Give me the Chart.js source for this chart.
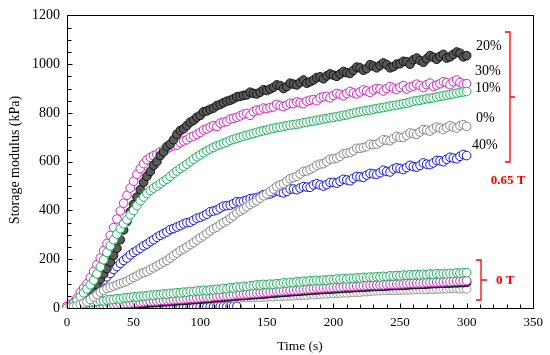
<!DOCTYPE html>
<html><head><meta charset="utf-8">
<script src="https://cdn.jsdelivr.net/npm/chart.js@4.4.1/dist/chart.umd.min.js"></script>
<style>html,body{margin:0;padding:0;background:#fff}#wrap{width:550px;height:355px}</style>
</head><body><div id="wrap"><canvas id="c" width="550" height="355"></canvas></div>
<script>
// ---- data (time in s, storage modulus in kPa) ----
const time = [
  0,2.5,5,7.5,10,12.5,15,17.5,20,22.5,
  25,27.5,30,32.5,35,37.5,40,42.5,45,47.5,
  50,52.5,55,57.5,60,62.5,65,67.5,70,72.5,
  75,77.5,80,82.5,85,87.5,90,92.5,95,97.5,
  100,102.5,105,107.5,110,112.5,115,117.5,120,122.5,
  125,127.5,130,132.5,135,137.5,140,142.5,145,147.5,
  150,152.5,155,157.5,160,162.5,165,167.5,170,172.5,
  175,177.5,180,182.5,185,187.5,190,192.5,195,197.5,
  200,202.5,205,207.5,210,212.5,215,217.5,220,222.5,
  225,227.5,230,232.5,235,237.5,240,242.5,245,247.5,
  250,252.5,255,257.5,260,262.5,265,267.5,270,272.5,
  275,277.5,280,282.5,285,287.5,290,292.5,295,297.5,
  300];

// 0.65 T
const mag30_065 = [
  8,15,25,40,65,82,100,125,150,178,
  205,235,265,298,330,365,398,430,462,492,
  520,548,572,592,608,618,625,630,640,648,
  652,660,665,668,678,685,690,700,705,712,
  720,730,735,742,748,745,758,762,765,775,
  778,782,788,795,798,790,805,812,812,820,
  818,822,825,835,830,826,832,840,838,845,
  842,838,848,852,855,850,862,866,868,862,
  872,880,876,870,880,888,882,878,886,894,
  890,884,894,900,898,890,900,908,902,896,
  905,912,898,906,910,918,912,904,916,922,
  908,914,920,928,924,916,928,935,925,918,
  920];
const blk20_065 = [
  0,2,5,10,15,25,38,55,72,95,
  118,140,162,188,215,245,280,320,355,395,
  425,455,485,515,540,560,585,600,625,640,
  662,672,690,712,728,735,748,762,770,782,
  790,805,808,815,820,830,835,842,848,852,
  858,866,868,872,874,885,880,878,885,895,
  892,898,905,915,912,900,908,922,918,915,
  925,935,922,928,935,945,948,940,952,960,
  955,950,960,970,965,962,975,988,985,975,
  982,998,992,985,995,1005,998,985,990,1000,
  1002,1012,1010,1000,1018,1025,1015,1008,1022,1035,
  1028,1020,1032,1040,1025,1030,1040,1050,1045,1030,
  1035];
const grn10_065 = [
  0,8,18,30,46,62,78,95,114,140,
  168,198,228,255,280,303,325,345,362,382,
  400,420,440,455,470,482,492,500,510,520,
  528,540,552,562,572,580,590,600,610,620,
  628,637,645,652,658,665,670,676,680,687,
  692,696,700,705,708,712,716,720,724,727,
  730,734,737,740,742,745,748,750,752,754,
  756,760,762,765,767,770,772,775,777,780,
  782,785,787,790,792,796,799,802,805,808,
  810,812,815,818,820,822,825,828,830,832,
  835,838,840,844,848,850,852,855,858,860,
  862,865,868,870,873,876,878,881,884,886,
  888];
const blu40_065 = [
  0,2,5,12,20,35,50,65,80,92,
  105,115,128,142,158,170,183,195,205,218,
  228,236,245,255,262,272,280,290,298,305,
  312,322,326,332,338,345,350,352,360,368,
  372,378,385,395,398,402,410,418,420,422,
  428,436,435,438,442,448,450,452,458,465,
  465,468,475,480,476,472,478,488,488,485,
  492,498,496,495,505,510,505,500,506,515,
  515,512,520,528,525,522,532,540,538,536,
  545,552,550,548,555,565,560,558,570,575,
  572,568,576,585,580,578,585,595,590,588,
  595,605,604,600,610,618,615,612,622,630,
  625];
const gry0_065 = [
  0,3,6,10,15,20,26,35,45,55,
  65,72,80,85,90,95,100,105,110,118,
  125,132,140,145,150,158,165,172,180,188,
  195,205,215,225,235,242,250,260,268,278,
  288,296,305,316,325,332,342,350,358,368,
  378,390,398,405,415,425,432,440,450,460,
  468,478,488,498,505,510,520,530,535,540,
  550,560,562,568,575,585,590,592,600,610,
  612,615,622,632,635,638,645,655,655,658,
  662,672,670,672,680,690,688,686,695,704,
  700,700,708,718,715,712,722,732,730,726,
  735,742,738,732,740,748,742,738,748,752,
  745];

// 0 T
const grn_0 = [
  0,4,8,12,15,19,20,23,25,27,
  30,29,33,34,35,38,37,41,42,43,
  46,45,48,49,50,53,52,55,55,58,
  57,60,60,63,62,65,65,68,67,70,
  70,73,71,74,74,77,76,80,79,83,
  82,86,85,89,88,91,92,95,94,97,
  96,98,97,100,99,103,102,105,104,108,
  107,110,109,112,111,113,112,115,114,117,
  116,119,118,121,119,122,121,124,123,126,
  125,127,126,128,127,130,129,132,131,133,
  132,135,134,136,135,137,136,138,137,140,
  138,141,139,141,140,142,141,144,143,145,
  145];
const mag_0 = [
  0,1,2,2,3,4,5,6,7,8,
  9,10,12,13,15,16,17,18,19,20,
  21,22,24,25,26,27,28,29,30,31,
  32,33,34,35,36,37,38,39,40,41,
  42,43,44,45,47,48,49,50,51,52,
  54,55,56,57,58,59,60,61,62,63,
  64,66,67,68,69,70,71,72,73,74,
  75,76,77,78,79,80,81,82,83,83,
  84,85,86,87,88,88,89,90,91,91,
  92,93,94,94,95,95,96,97,98,98,
  99,99,100,101,102,102,103,103,104,105,
  106,106,107,107,108,108,109,110,111,111,
  112];
const blk_0 = [
  0,0,1,1,2,2,3,3,4,4,
  5,6,7,8,9,10,11,12,13,14,
  15,16,18,19,20,21,22,23,24,25,
  26,27,28,29,30,31,32,33,34,35,
  36,37,38,39,41,42,43,44,45,46,
  48,49,50,51,52,53,54,55,56,57,
  58,60,61,62,63,64,65,66,67,68,
  69,70,71,72,73,74,75,76,77,77,
  78,79,80,81,82,82,83,84,85,85,
  86,87,88,88,89,89,90,91,92,92,
  93,93,94,95,96,96,97,97,98,99,
  100,100,101,101,102,102,103,103,104,104,
  105];
const gry_0 = [
  0,3,5,8,10,12,14,16,18,19,
  20,22,22,24,24,25,25,27,26,27,
  27,29,28,30,29,31,30,32,31,33,
  32,34,33,35,34,36,35,37,36,38,
  37,38,37,39,38,40,39,41,40,42,
  41,43,42,44,43,44,43,45,44,46,
  45,47,46,48,47,49,49,50,50,52,
  52,53,53,55,55,56,56,58,58,60,
  60,61,61,63,62,64,64,65,65,67,
  67,69,70,71,71,72,72,73,72,73,
  73,74,74,75,75,76,76,77,76,78,
  77,78,78,79,79,80,80,81,79,80,
  78];
// blue 0 T: visible along the axis only up to ~130 s
const blu_0 = [
  0,0,0,0,1,1,1,1,1,1,
  1,1,1,2,2,2,2,2,2,2,
  2,2,2,3,3,3,3,3,3,3,
  3,3,4,4,4,4,4,4,4,5,
  5,5,5,5,5,6,6,6,6,7,
  7,7];

const xTickStep = 50, xMin = 0, xMax = 350;
const yTickStep = 200, yMin = 0, yMax = 1200;
const seriesLabels = ['20%','30%','10%','0%','40%'];
const fieldLabels = ['0.65 T','0 T'];
const xTitle = 'Time (s)';
const yTitle = 'Storage modulus (kPa)';

// ---- build ----
const pts = ys => ys.map((y, i) => ({x: time[i], y}));
const serif = "'Liberation Serif','Times New Roman',serif";
const C = {mag:'#cc22c4', grn:'#17b05a', blu:'#1111e0', gry:'#868686', blk:'#111111'};

function ds(ys, stroke, fill) {
  return {data: pts(ys), borderColor: stroke, backgroundColor: fill, pointRadius: 4.3,
    pointBorderWidth: 1, pointHoverRadius: 4.3, showLine: false,
    clip: {left: 6, top: 6, right: 6, bottom: 0}};
}

const datasets = [
  ds(gry0_065, C.gry, '#ffffff'),
  ds(grn10_065, C.grn, '#ffffff'),
  ds(blk20_065, C.blk, '#595959'),
  ds(mag30_065, C.mag, '#ffffff'),
  ds(blu40_065, C.blu, '#ffffff'),
  ds(grn_0, C.grn, '#ffffff'),
  ds(mag_0, C.mag, '#ffffff'),
  ds(blk_0, C.blk, '#3a3a3a'),
  ds(gry_0, '#9a9a9a', '#ffffff'),
  ds(blu_0, C.blu, '#ffffff'),
];

const decor = {
  id: 'decor',
  afterDraw(chart) {
    const {ctx, chartArea: a, scales: {x, y}} = chart;
    ctx.save();
    ctx.strokeStyle = '#000'; ctx.lineWidth = 1;
    const L = Math.round(a.left) + 0.5, R = Math.round(a.right) + 0.5,
          T = Math.round(a.top) + 0.5, B = Math.round(a.bottom) + 0.5;
    ctx.strokeRect(L, T, R - L, B - T);
    ctx.beginPath();
    for (let v = yMin; v <= yMax; v += 50) {
      const py = Math.round(y.getPixelForValue(v)) + 0.5;
      const len = v % yTickStep === 0 ? 5 : 4;
      ctx.moveTo(L, py); ctx.lineTo(L + len, py);
    }
    for (let t = xMin; t <= xMax; t += 10) {
      const px = Math.round(x.getPixelForValue(t)) + 0.5;
      const len = t % xTickStep === 0 ? 5 : 4;
      ctx.moveTo(px, B); ctx.lineTo(px, B - len);
    }
    ctx.stroke();

    // axis titles
    ctx.fillStyle = '#000';
    ctx.font = '13.5px ' + serif;
    ctx.textAlign = 'center'; ctx.textBaseline = 'middle';
    ctx.fillText(xTitle, 300, 346);
    ctx.save();
    ctx.translate(15, 160); ctx.rotate(-Math.PI / 2);
    ctx.font = '14px ' + serif;
    ctx.fillText(yTitle, 0, 0);
    ctx.restore();

    // series labels
    ctx.font = '14px ' + serif;
    ctx.textAlign = 'left';
    const lp = [[476, 46], [475, 71], [475, 88], [476, 118], [472, 145]];
    seriesLabels.forEach((s, i) => ctx.fillText(s, lp[i][0], lp[i][1]));

    // brackets
    ctx.strokeStyle = '#ff0000'; ctx.lineWidth = 1.3;
    ctx.beginPath();
    ctx.moveTo(505, 32); ctx.lineTo(510, 32); ctx.lineTo(510, 162); ctx.lineTo(505, 162);
    ctx.moveTo(510, 97); ctx.lineTo(515, 97);
    ctx.moveTo(476, 260); ctx.lineTo(481, 260); ctx.lineTo(481, 300); ctx.lineTo(476, 300);
    ctx.moveTo(481, 280); ctx.lineTo(487, 280);
    ctx.stroke();
    ctx.fillStyle = '#ff0000';
    ctx.font = 'bold 13px ' + serif;
    ctx.textAlign = 'center';
    ctx.fillText(fieldLabels[0], 508, 181);
    ctx.textAlign = 'left';
    ctx.fillText(fieldLabels[1], 496, 281);
    ctx.restore();
  }
};

new Chart(document.getElementById('c'), {
  type: 'scatter',
  data: {datasets},
  options: {
    responsive: false, devicePixelRatio: 1, animation: false,
    events: [],
    layout: {padding: {left: 0, right: 13, top: 13, bottom: 0}},
    plugins: {legend: {display: false}, tooltip: {enabled: false}},
    scales: {
      x: {
        type: 'linear', min: xMin, max: xMax,
        ticks: {stepSize: xTickStep, color: '#000', font: {family: serif, size: 13}, padding: 7, maxRotation: 0,
          callback: v => String(v)},
        grid: {display: false, drawTicks: false},
        border: {display: false},
        afterFit(s) { s.height = 47; }
      },
      y: {
        type: 'linear', min: yMin, max: yMax,
        ticks: {stepSize: yTickStep, color: '#000', font: {family: serif, size: 14}, padding: 7,
          callback: v => String(v)},
        grid: {display: false, drawTicks: false},
        border: {display: false},
        afterFit(s) { s.width = 67; }
      }
    }
  },
  plugins: [decor]
});
</script>
</body></html>
